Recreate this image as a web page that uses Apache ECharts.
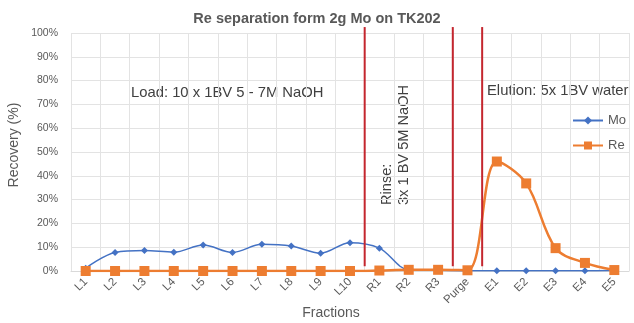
<!DOCTYPE html>
<html><head><meta charset="utf-8">
<script src="https://cdn.jsdelivr.net/npm/echarts@6/dist/echarts.min.js"></script>
<style>html,body{margin:0;padding:0;background:#fff}#c{width:634px;height:323px}</style>
</head><body><div id="c"></div>
<script>
const categories = ['L1','L2','L3','L4','L5','L6','L7','L8','L9','L10','R1','R2','R3','Purge','E1','E2','E3','E4','E5'];
const moValues = [1.2, 7.8, 8.6, 7.9, 10.9, 7.8, 11.2, 10.5, 7.5, 11.9, 9.6, 0.5, 0.3, 0.1, 0.1, 0.1, 0.1, 0.1, 0.2];
const reValues = [0, 0, 0, 0, 0, 0, 0, 0, 0, 0, 0.2, 0.5, 0.5, 0.3, 46, 36.8, 9.6, 3.4, 0.4];
const yTicks = [0,10,20,30,40,50,60,70,80,90,100];
const dividerPositions = [10, 13, 14];
const dividerRange = [2, 102.5];

const font = 'Liberation Sans';
const txt = '#595959';
const dividerSeries = dividerPositions.map(p => ({
  type: 'line', xAxisIndex: 1, yAxisIndex: 0, clip: false, silent: true,
  symbol: 'none', lineStyle: {color: '#C4262E', width: 2}, z: 5,
  data: dividerRange.map(y => [p, y])
}));

const chart = echarts.init(document.getElementById('c'), null, {renderer: 'canvas'});
chart.setOption({
  animation: false,
  backgroundColor: '#fff',
  textStyle: {fontFamily: font},
  title: {text: 'Re separation form 2g Mo on TK202', left: 'center', top: 6,
    textStyle: {fontFamily: font, fontSize: 14.5, fontWeight: 'bold', color: txt}},
  grid: {left: 71, right: 5, top: 33, bottom: 52},
  legend: {data: ['Mo', 'Re'], orient: 'vertical', left: 567, top: 109, itemGap: 12,
    itemWidth: 30, itemHeight: 10, textStyle: {fontSize: 13, color: txt, fontFamily: font}},
  xAxis: [{
    type: 'category', data: categories, boundaryGap: true,
    axisLine: {lineStyle: {color: '#D9D9D9'}}, axisTick: {show: false},
    axisLabel: {rotate: 45, fontSize: 11.5, color: txt, interval: 0, margin: 9},
    splitLine: {show: true, interval: 0, lineStyle: {color: '#E3E3E3'}}
  }, {
    type: 'value', min: 0, max: 19, show: false
  }],
  yAxis: {
    type: 'value', min: 0, max: 100, interval: 10,
    axisLabel: {formatter: v => yTicks.includes(v) ? v + '%' : '', fontSize: 10.5, color: txt, margin: 13},
    splitLine: {lineStyle: {color: '#E3E3E3'}},
    axisLine: {show: false}, axisTick: {show: false}
  },
  series: [
    {name: 'Mo', type: 'line', data: moValues, smooth: 0.35, symbol: 'diamond', symbolSize: 7,
      itemStyle: {color: '#4472C4'}, lineStyle: {color: '#4472C4', width: 1.5}, z: 3},
    {name: 'Re', type: 'line', data: reValues, smooth: 0.35, symbol: 'rect', symbolSize: 10,
      itemStyle: {color: '#ED7D31'}, lineStyle: {color: '#ED7D31', width: 2.5}, z: 4},
    ...dividerSeries
  ],
  graphic: [
    {type: 'text', x: 331, y: 313, style: {text: 'Fractions', fontSize: 14, fill: txt, fontFamily: font,
      align: 'center', verticalAlign: 'middle'}},
    {type: 'text', x: 14, y: 145, rotation: Math.PI / 2, style: {text: 'Recovery (%)', fontSize: 14, fill: txt,
      fontFamily: font, align: 'center', verticalAlign: 'middle'}},
    {type: 'text', left: 131, top: 85, style: {text: 'Load: 10 x 1BV 5 - 7M NaOH', fontSize: 14.8, fill: '#404040', fontFamily: font}},
    {type: 'text', left: 487, top: 83, style: {text: 'Elution: 5x 1BV water', fontSize: 14.8, fill: '#404040', fontFamily: font}},
    {type: 'text', x: 395, y: 205, rotation: Math.PI / 2,
      style: {text: 'Rinse:\n3x 1 BV 5M NaOH', fontSize: 14.6, fill: '#404040', fontFamily: font,
        align: 'left', verticalAlign: 'middle', lineHeight: 17}}
  ]
});
</script></body></html>
